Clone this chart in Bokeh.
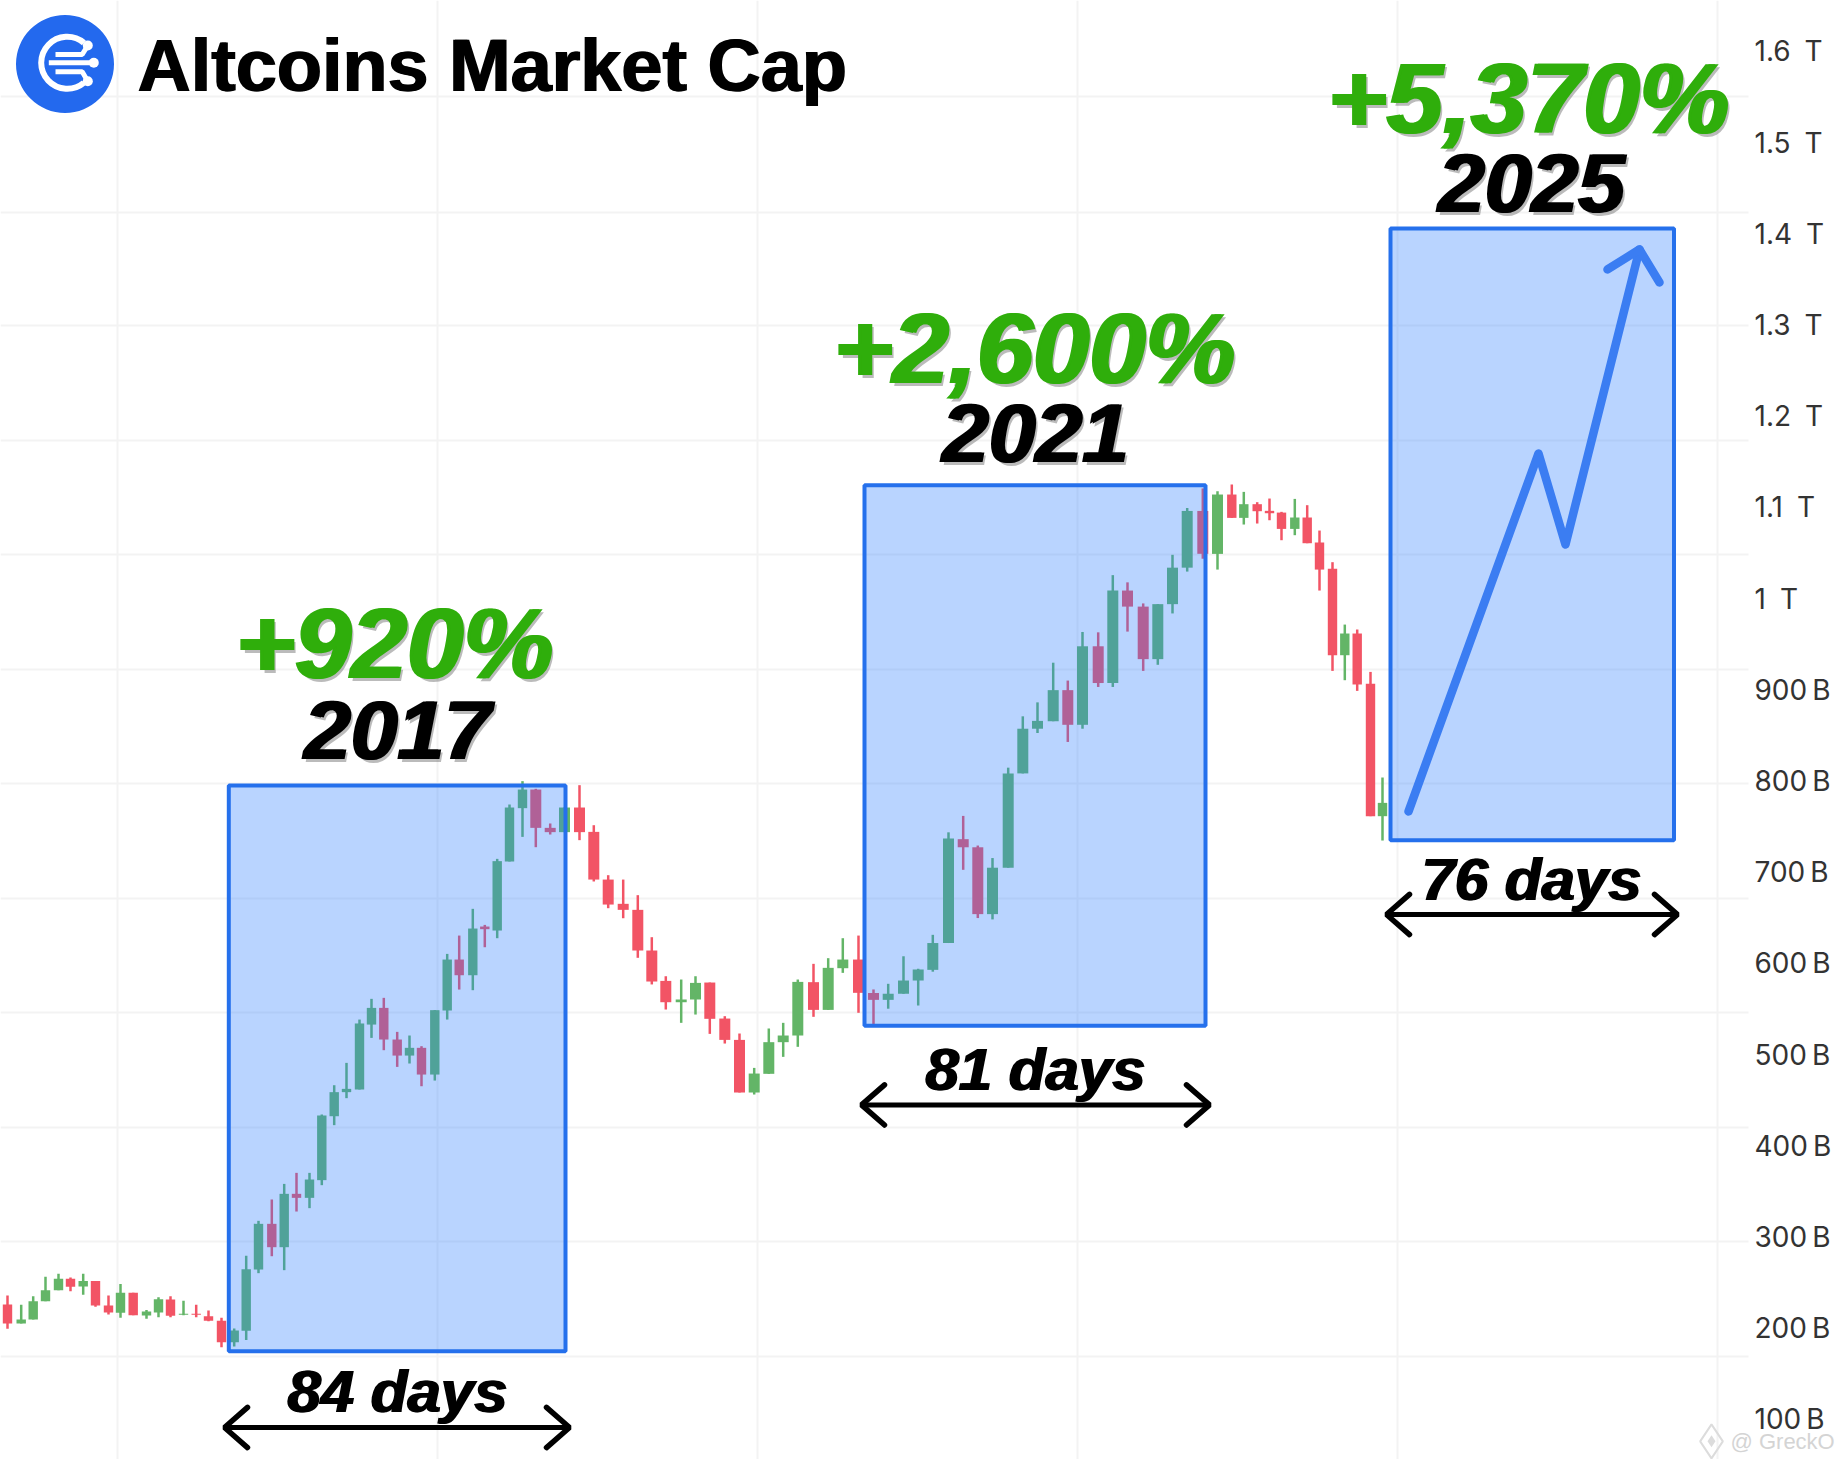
from bokeh.plotting import figure
from bokeh.models import Range1d, LinearAxis, FixedTicker, Grid, ColumnDataSource
from bokeh.core.properties import value
from bokeh.embed import file_html
from bokeh.resources import INLINE

# ---- chart data (billions of USD; x = position along the stretched time axis) ----
candle_x = [7,20.7,32.7,45,58,70,82.7,95,108,120,132.7,146,158,170,183,195.7,208,221,233.7,245.7,
            258,271.3,283.7,296,309,321.3,333.7,346,359,371,383.3,396.7,409,421,434.3,446.7,458.7,472.3,484.3,496.7,
            509,522,535.3,549.7,564,579,593.3,607.7,622.7,637.3,651.3,665.3,680.7,695,709.3,724.3,739,753.7,768.3,782.7,
            797.3,813,827.7,842.3,858,873,887.7,903,917.7,932.3,948,962.7,977.3,992,1007.7,1022.3,1037,1052.7,1067.3,1082,
            1097.7,1112.3,1127,1142.7,1157.3,1172,1186.7,1202.3,1217,1231.3,1243.3,1256.7,1269,1281,1294.3,1306.7,1319,1332,1344.3,1356.7,
            1370,1382]
opens = [226.1,205.2,209.6,229.7,241.8,254.2,245.8,251.7,225,217,238.9,214,217.3,231.5,214.7,215.8,213.3,208.2,184.8,197.2,
         264.4,314.5,288.9,347.4,343,362.4,432.5,458.9,461.8,533,551.3,516.6,499,507.5,478.2,548.4,604.3,587.1,640.5,636.1,
         711.8,770.3,790.7,748.7,744,771,744.3,692,665.4,658.8,614.2,580.9,557.5,560.5,579.1,539.6,516.2,458.5,479,513.7,
         521,579.5,549.1,594.8,604.3,567.6,560.1,566.8,581.3,593,622.4,736.3,727.4,654.1,705,808.4,857.4,865.6,899.7,861.7,
         947.8,907.5,1008.9,991.3,933.7,994,1034,1096.2,1049.1,1114.2,1088.6,1103.6,1096.3,1094.4,1076.5,1089,1061.6,1032.7,938,961.8,
         906.6,761.5]
closes = [205.2,209.6,229.7,241.8,254.2,245.4,251.7,225,217.3,238.9,214.4,218.4,231.9,213.6,215.8,214.7,208.2,184.8,197.6,264.8,
          314.5,288.9,347.4,343,363.1,433.3,458.9,462.5,534.2,551.3,516.6,499,507.5,478.2,548.8,604.3,587.1,638.3,637.6,712.2,
          771,790.7,748.7,744,771,744,692,664.6,658.8,614.2,580.2,557.5,560.5,578.7,539.3,516.2,458.5,479.3,513.7,521,
          579.8,549.1,595.2,604.3,567.8,560.1,566.8,581.3,593.4,622.4,737.1,727.4,654.1,705,808.4,857.4,866,899.7,861.7,947.8,
          907.5,1008.9,991.3,933.7,994,1034,1096.2,1049.2,1114.2,1088.6,1103.6,1095.9,1093.7,1076.5,1089,1060.8,1031.9,938,961.8,905.9,
          761.5,776.1]
highs = [235.9,225.7,235.2,256.4,259.7,255.7,259.7,251.7,235.9,248.4,238.9,219.9,234.1,235.2,230.1,225.7,219.5,211.4,199.8,279.4,
         317.8,341.2,358.3,370.4,370.4,434.4,466.5,491,538.5,561.2,562.3,525,521,509.3,548.8,610.5,630.6,659.9,642.3,714.7,
         774.3,799.9,791.5,753.5,771,795.5,751.6,696.8,692,674.9,628.8,586,582.4,586,579.1,542.2,523.2,485.5,528.7,534.9,
         582.4,599.6,605.8,627.7,630.6,571.5,577.7,607.9,594.2,631.4,743.8,761.8,729.3,715.6,814.7,871,886.3,929.8,910.2,963.5,
         963.1,1025.8,1017.9,994.8,994,1048.1,1099.4,1120.9,1117.8,1125.2,1117.1,1105.8,1109.8,1095.2,1109.4,1102.5,1074.7,1040,971.6,966.2,
         919.7,803.9]
lows = [199.4,205.2,209.6,229.7,241.8,240.7,236.7,223.5,215.1,211.4,214.4,210.4,212.2,212.2,214.4,212.2,207.8,179.3,180,187,
        260.4,279,263.7,328,331.7,356.9,422.7,452.3,461.8,518.4,504.9,486.6,490.3,465.4,471.6,538.5,571.4,570.7,617.8,627.7,
        711.8,738.8,727.5,741.4,744,735.2,689.9,660.6,649.6,606.2,577,549.5,534.9,544,522.8,512.2,458.5,456.3,479,497.6,
        508.6,541.5,549.1,589.7,545.9,533.5,550.4,566.8,553.9,591,622.4,702.7,649.8,648.3,705,808.4,852.7,865.6,842.9,857.4,
        903.2,903.2,963.9,920.8,927.5,983.8,1029.7,1043.8,1031.9,1088.6,1081.3,1082.4,1086,1064.1,1069.6,1060.8,1008.9,920.8,910.6,898.9,
        761.5,734.8]

axis_values = [100,200,300,400,500,600,700,800,900,1000,1100,1200,1300,1400,1500,1600]
axis_labels = ["100\u2009B","200\u2009B","300\u2009B","400\u2009B","500\u2009B","600\u2009B","700\u2009B","800\u2009B","900\u2009B",
               "1\u2002T","1.1\u2002T","1.2\u2002T","1.3\u2002T","1.4\u2002T","1.5\u2002T","1.6\u2002T"]
grid_prices = [169,295.1,420.2,546.3,671.3,797.4,922.3,1048.4,1173.4,1299.5,1423.4,1550.6]
grid_times = [117,437,757,1077,1397,1717]

box_left = [228.3,864,1390]
box_right = [565,1205,1673.5]
box_top = [795.2,1124.4,1405.9]
box_bottom = [174.9,531.6,735.2]
gain_labels = ["+920%","+2,600%","+5,370%"]
year_labels = ["2017","2021","2025"]
days_labels = ["84 days","81 days","76 days"]
label_center = [397,1035,1531]
gain_center = [394,1034,1528]
gain_base = [951.2,1274.6,1549.1]
year_base = [856.5,1182.1,1455.5]
days_base = [130.7,483.8,691.6]
span_left = [224,861,1386]
span_right = [569,1209,1677]
span_level = [91.2,444.9,653.7]

path_x = [1408,1538,1565,1639]
path_y = [766.7,1159.2,1059.4,1382.9]
head_x = [1607,1639,1659]
head_y = [1361,1382.9,1346.7]

RED, GREEN = "#f25465", "#63b567"
BLUE = "#2570ec"
SANS = value("Liberation Sans")
GRID = "#f3f3f3"

p = figure(width=1836, height=1459, output_backend="svg", toolbar_location=None,
           x_range=Range1d(0, 1836), y_range=Range1d(56.1, 1655.9),
           x_axis_location=None, y_axis_location=None,
           min_border_left=0, min_border_top=0, min_border_bottom=0, min_border_right=0)
p.outline_line_color = None
p.background_fill_color = "#ffffff"
p.xgrid.visible = False
p.ygrid.visible = False

p.add_layout(Grid(dimension=0, ticker=FixedTicker(ticks=grid_times), grid_line_color=GRID, grid_line_width=2))
p.segment(x0=[0]*len(grid_prices), x1=[1748]*len(grid_prices), y0=grid_prices, y1=grid_prices,
          line_color=GRID, line_width=2, level="underlay")

axis = LinearAxis(ticker=FixedTicker(ticks=axis_values),
                  major_label_overrides={v: t for v, t in zip(axis_values, axis_labels)},
                  axis_line_color=None, major_tick_line_color=None, minor_tick_line_color=None,
                  major_tick_in=0, major_tick_out=0, major_label_standoff=-82,
                  major_label_text_font="Inter", major_label_text_font_size="28px",
                  major_label_text_color="#333333")
p.add_layout(axis, "right")

# candles
wide = [11 if 42 <= i <= 88 else 9.4 for i in range(len(candle_x))]
src = ColumnDataSource(dict(x=candle_x, o=opens, c=closes, h=highs, l=lows, w=wide,
                            top=[max(a, b) for a, b in zip(opens, closes)],
                            bot=[min(a, b) for a, b in zip(opens, closes)],
                            col=[GREEN if b >= a else RED for a, b in zip(opens, closes)]))
p.segment("x", "h", "x", "l", source=src, line_color="col", line_width=2.5)
p.vbar(x="x", width="w", top="top", bottom="bot", source=src, fill_color="col", line_color=None)

# highlighted rallies
p.quad(left=box_left, right=box_right, top=box_top, bottom=box_bottom,
       fill_color="#2a7bff", fill_alpha=0.33, line_color=BLUE, line_width=4)

# 2025 projected path
p.line(path_x, path_y, line_color="#3b7df2", line_width=8.5, line_cap="round", line_join="round")
p.line(head_x, head_y, line_color="#3b7df2", line_width=8.5, line_cap="round", line_join="round")

# day-count spans
for xl, xr, lvl in zip(span_left, span_right, span_level):
    p.line([xl, xr], [lvl, lvl], line_color="black", line_width=5)
    p.line([xl + 23, xl, xl + 23], [lvl + 22, lvl, lvl - 22], line_color="black", line_width=5.5, line_cap="round")
    p.line([xr - 23, xr, xr - 23], [lvl + 22, lvl, lvl - 22], line_color="black", line_width=5.5, line_cap="round")

def heavy(xs, ys, texts, size, color, spread=1.2, shadow=3, style="bold italic", align="center"):
    common = dict(text_font=SANS, text_font_style=style, text_font_size=size,
                  text_align=align, text_baseline="alphabetic")
    if shadow:
        p.text(xs, ys, text=texts, text_color="#555555", text_alpha=0.4, x_offset=shadow, y_offset=shadow, **common)
    p.text(xs, ys, text=texts, text_color=color, x_offset=-spread, **common)
    p.text(xs, ys, text=texts, text_color=color, x_offset=spread, **common)

heavy(gain_center, gain_base, gain_labels, "101px", "#2fae0b", spread=1.6)
heavy(label_center, year_base, year_labels, "84px", "#000000", spread=1.4)
heavy(label_center, days_base, days_labels, "60px", "#000000", spread=1, shadow=0)

# title and logo
heavy([137], [1584.7], ["Altcoins Market Cap"], "73.8px", "#000000", spread=0.8, shadow=0, style="bold", align="left")
p.scatter([64.5], [1586.3], marker="circle", size=98, fill_color="#2369ee", line_color=None)
p.arc([66.7], [1587.6], radius=26, radius_units="screen", start_angle=50, end_angle=310,
      start_angle_units="deg", end_angle_units="deg", line_color="white", line_width=6)
p.line([48.3, 93.3], [1587.6, 1587.6], line_color="white", line_width=5)
p.line([55, 81.7, 87.3], [1596.7, 1596.7, 1606.6], line_color="white", line_width=5)
p.line([55, 81.7, 87.3], [1577.7, 1577.7, 1567.4], line_color="white", line_width=5)
p.scatter([87.3, 93.3, 87.3], [1606.6, 1587.6, 1567.4], marker="circle", size=10, fill_color="white", line_color=None)

# watermark
p.scatter([1711], [76], marker="diamond", size=34, fill_color=None, line_color="#dcdcdc", line_width=2)
p.scatter([1711], [76], marker="diamond", size=12, fill_color="#dcdcdc", line_color=None)
p.text([1730], [76], text=["@ GreckO"], text_color="#d4d4d4", text_font=SANS,
       text_font_size="22px", text_baseline="middle", text_align="left")

open("out.html", "w").write(file_html(p, INLINE))
